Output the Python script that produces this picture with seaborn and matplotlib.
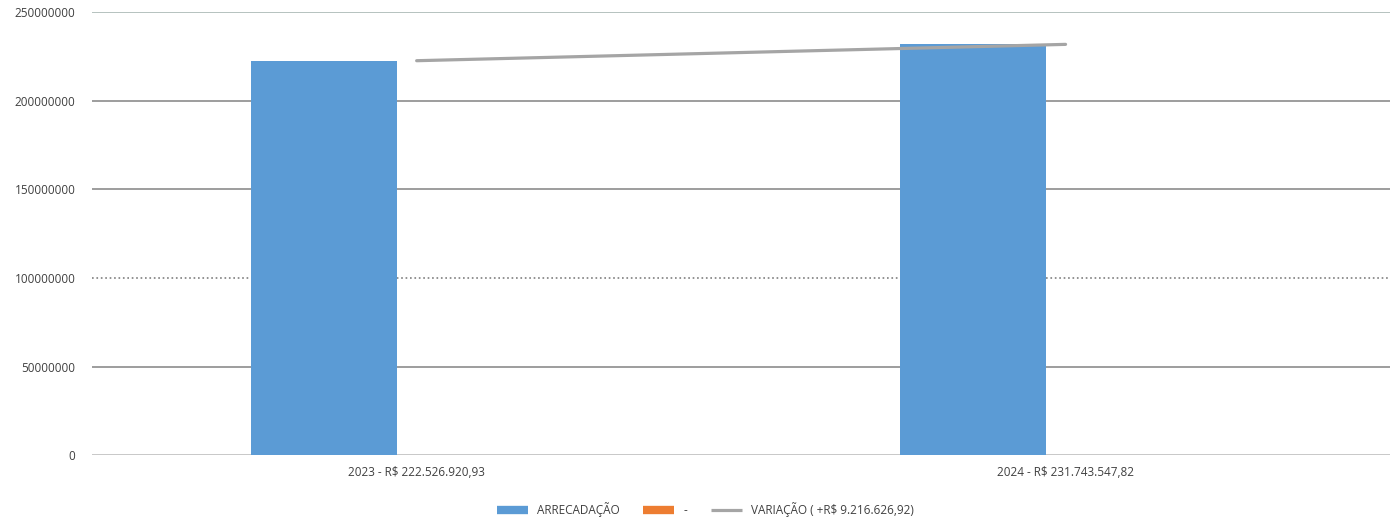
import pandas as pd
import matplotlib.pyplot as plt
import seaborn as sns
from matplotlib.lines import Line2D
from matplotlib.ticker import FuncFormatter

# valores
categorias = ["2023 - R$ 222.526.920,93", "2024 - R$ 231.743.547,82"]
arrecadacao = [222526920.93, 231743547.82]
traco = [0, 0]
variacao = [222526920.93, 231743547.82]
series = ["ARRECADAÇÃO", "-"]
rotulo_variacao = "VARIAÇÃO ( +R$ 9.216.626,92)"

AZUL = "#5b9bd5"
LARANJA = "#ed7d31"
CINZA = "#a5a5a5"
TEXTO = "#404040"


def montar_dados():
    df = pd.DataFrame({
        "categoria": categorias * 2,
        "valor": arrecadacao + traco,
        "serie": [series[0]] * 2 + [series[1]] * 2,
    })
    return df


def plot_arrecadacao(df):
    sns.set_style("white")
    plt.rcParams["font.family"] = ["Open Sans", "DejaVu Sans"]

    fig = plt.figure(figsize=(13.97, 5.22), dpi=100)
    ax = fig.add_axes([0.066, 0.128, 0.929, 0.849])

    sns.barplot(data=df, x="categoria", y="valor", hue="serie",
                palette=[AZUL, LARANJA], width=0.57, gap=0.21,
                saturation=1, linewidth=0, edgecolor="none",
                legend=False, ax=ax, zorder=3)

    # linha da variação entre os dois anos
    sns.pointplot(x=categorias, y=variacao, color=CINZA, markers="",
                  linewidth=2.3, ax=ax, zorder=4)

    ax.set_xlim(-0.5, 1.5)
    ax.set_ylim(0, 250000000)
    ax.set_yticks(range(0, 250000001, 50000000))
    ax.yaxis.set_major_formatter(FuncFormatter(lambda v, p: f"{int(v)}"))
    ax.set_xlabel("")
    ax.set_ylabel("")

    # grade horizontal
    ax.yaxis.grid(True, color="#8c8c8c", linewidth=1.2, zorder=0)
    linhas = ax.get_ygridlines()
    linhas[0].set_color("#bfbfbf")
    linhas[2].set_linestyle(":")
    linhas[2].set_color("#7f7f7f")
    linhas[5].set_color("#a9b8b4")

    for s in ax.spines.values():
        s.set_visible(False)
    ax.tick_params(axis="both", length=0, labelsize=8.5, colors=TEXTO, pad=8)
    ax.tick_params(axis="y", pad=12)

    handles = [
        Line2D([], [], color=AZUL, linewidth=6, solid_capstyle="butt"),
        Line2D([], [], color=LARANJA, linewidth=6, solid_capstyle="butt"),
        Line2D([], [], color=CINZA, linewidth=2.3, solid_capstyle="butt"),
    ]
    fig.legend(handles, series + [rotulo_variacao], loc="center",
               bbox_to_anchor=(0.505, 0.023), ncol=3, frameon=False,
               fontsize=8.5, handlelength=2.6, columnspacing=2.0,
               labelcolor=TEXTO)

    fig.savefig("out.png", dpi=100)


def main():
    df = montar_dados()
    plot_arrecadacao(df)


if __name__ == "__main__":
    main()
